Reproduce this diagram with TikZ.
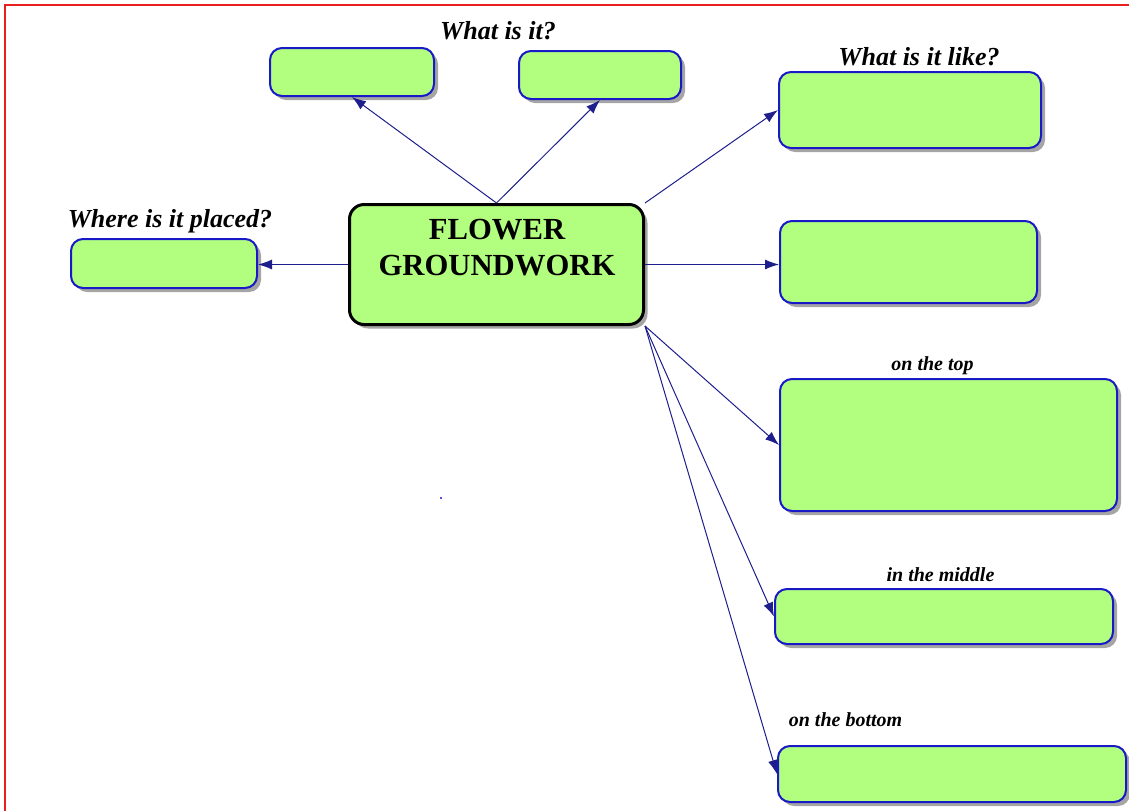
\documentclass[tikz,border=0pt]{standalone}
\usepackage{fontspec}
\setmainfont{Liberation Serif}
\usetikzlibrary{shadows,arrows.meta}
\definecolor{leafgreen}{RGB}{178,255,128}
\definecolor{rimblue}{RGB}{25,25,200}
\definecolor{linknavy}{RGB}{30,30,140}
\definecolor{framered}{RGB}{235,30,30}

\begin{document}
\begin{tikzpicture}[x=0.75pt, y=-0.75pt,
    leaf/.style={rectangle, rounded corners=9pt, draw=rimblue, line width=1.5pt, fill=leafgreen,
      drop shadow={shadow xshift=3pt, shadow yshift=-3pt, fill=black!70}},
    hub/.style={leaf, draw=black, line width=2.25pt, rounded corners=11pt},
    cue/.style={font=\fontsize{19.5}{22}\selectfont\bfseries\itshape, inner sep=0pt, anchor=base},
    smallcue/.style={cue, font=\fontsize{15}{18}\selectfont\bfseries\itshape},
    link/.style={draw=linknavy, line width=0.75pt, -{Latex[length=10.5pt,width=7.5pt]}}]
      \useasboundingbox (0,0) rectangle (1129,811);
      \draw[framered, line width=1.5pt] (5,811) -- (5,5) -- (1129,5);

      \node[hub, minimum width=220.5pt, minimum height=90pt] (flower) at (496.5,264.5) {};
      \node[font=\fontsize{23}{27}\selectfont\bfseries, align=center] (title) at (497,248) {FLOWER\\GROUNDWORK};

      \node[leaf, minimum width=123pt, minimum height=36pt] (isA) at (352,72) {};
      \node[leaf, minimum width=121.5pt, minimum height=36pt] (isB) at (600,75) {};
      \node[leaf, minimum width=196.5pt, minimum height=57pt] (likeA) at (910,110) {};
      \node[leaf, minimum width=192.75pt, minimum height=61.5pt] (likeB) at (908.5,262) {};
      \node[leaf, minimum width=252.75pt, minimum height=99pt] (top) at (948.5,445) {};
      \node[leaf, minimum width=253.5pt, minimum height=41.25pt] (middle) at (944,616.5) {};
      \node[leaf, minimum width=261pt, minimum height=42pt] (bottom) at (952,774) {};
      \node[leaf, minimum width=139.5pt, minimum height=36.75pt] (place) at (164,263.5) {};

      \node[cue] (isq) at (498,39) {What is it?};
      \node[cue] (likeq) at (919,65) {What is it like?};
      \node[cue] (placeq) at (170,227) {Where is it placed?};
      \node[smallcue] (topq) at (932.5,370) {on the top};
      \node[smallcue] (middleq) at (940.5,581) {in the middle};
      \node[smallcue] (bottomq) at (845.5,726) {on the bottom};

      \draw[link] (flower.north) -- (isA.south);
      \draw[link] (flower.north) -- (isB.south);
      \draw[link] (flower.north east) -- (likeA.west);
      \draw[link] (flower.east) -- (flower.east -| likeB.west);
      \draw[link] (flower.west) -- (flower.west -| place.east);
      \draw[link] (flower.south east) -- (top.west);
      \draw[link] (flower.south east) -- (middle.west);
      \draw[link] (flower.south east) -- (bottom.west);

      \fill[rimblue] (441,498) circle (0.9pt);
    \end{tikzpicture}
\end{document}
